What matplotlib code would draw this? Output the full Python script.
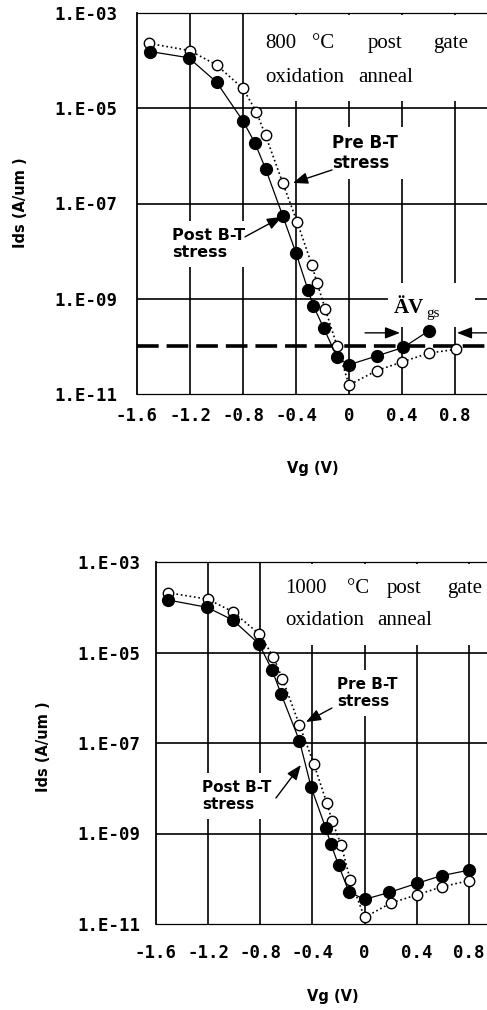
import matplotlib
matplotlib.use('Agg')
import matplotlib.pyplot as plt
from matplotlib.patches import Rectangle

# Vg (V) and Ids (A/um), 800 C anneal
vg_post_800 = [-1.50, -1.21, -1.00, -0.80, -0.71, -0.63, -0.50, -0.40, -0.31, -0.27, -0.19, -0.09, 0.00, 0.21, 0.41, 0.60]
ids_post_800 = [1.55e-4, 1.15e-4, 3.55e-5, 5.4e-6, 1.86e-6, 5.4e-7, 5.5e-8, 9.1e-9, 1.55e-9, 7.2e-10, 2.4e-10, 5.9e-11, 4.1e-11, 6.3e-11, 9.5e-11, 2.1e-10]
vg_pre_800 = [-1.51, -1.20, -1.00, -0.80, -0.70, -0.63, -0.50, -0.39, -0.28, -0.24, -0.18, -0.09, 0.00, 0.21, 0.40, 0.60, 0.81]
ids_pre_800 = [2.3e-4, 1.62e-4, 8.1e-5, 2.6e-5, 8.5e-6, 2.7e-6, 2.7e-7, 4.0e-8, 5.1e-9, 2.1e-9, 6.2e-10, 1.02e-10, 1.55e-11, 3.1e-11, 4.7e-11, 7.2e-11, 8.7e-11]

# 1000 C anneal
vg_post_1000 = [-1.51, -1.21, -1.01, -0.81, -0.71, -0.64, -0.50, -0.41, -0.30, -0.26, -0.20, -0.12, 0.00, 0.19, 0.40, 0.59, 0.80]
ids_post_1000 = [1.45e-4, 1.0e-4, 5.2e-5, 1.55e-5, 4.1e-6, 1.2e-6, 1.12e-7, 1.05e-8, 1.35e-9, 6.0e-10, 2.0e-10, 5.1e-11, 3.5e-11, 5.0e-11, 7.9e-11, 1.17e-10, 1.55e-10]
vg_pre_1000 = [-1.51, -1.20, -1.01, -0.81, -0.70, -0.63, -0.50, -0.39, -0.29, -0.25, -0.18, -0.11, 0.00, 0.20, 0.40, 0.59, 0.80]
ids_pre_1000 = [2.1e-4, 1.5e-4, 7.9e-5, 2.6e-5, 8.1e-6, 2.6e-6, 2.5e-7, 3.5e-8, 4.7e-9, 1.9e-9, 5.6e-10, 9.3e-11, 1.4e-11, 2.9e-11, 4.4e-11, 6.6e-11, 9.1e-11]

xticks = [-1.6, -1.2, -0.8, -0.4, 0, 0.4, 0.8]
xticklabels = ['-1.6', '-1.2', '-0.8', '-0.4', '0', '0.4', '0.8']
yticks = [1e-3, 1e-5, 1e-7, 1e-9, 1e-11]
yticklabels = ['1.E-03', '1.E-05', '1.E-07', '1.E-09', '1.E-11']
ref_level = 1e-10

W, H = 487, 1010
fig = plt.figure(figsize=(W/100, H/100), dpi=100)

def px_axes(l, t, r, b):
  return fig.add_axes([l/W, 1-b/H, (r-l)/W, (b-t)/H])

mono = dict(family='DejaVu Sans Mono', weight='bold')
serif = 'Liberation Serif'

def panel(ax, vpost, ipost, vpre, ipre, xmax, ypad, xpad):
  ax.set_yscale('log')
  ax.set_xlim(-1.6, xmax)
  ax.set_ylim(1e-11, 1e-3)
  ax.set_xticks(xticks)
  ax.set_xticklabels(xticklabels, fontsize=12.5, **mono)
  ax.set_yticks(yticks)
  ax.set_yticklabels(yticklabels, fontsize=12.5, **mono)
  ax.yaxis.set_minor_locator(matplotlib.ticker.NullLocator())
  ax.tick_params(length=0)
  ax.tick_params(axis='y', pad=ypad)
  ax.tick_params(axis='x', pad=xpad)
  for x in xticks[1:]:
    ax.axvline(x, color='black', lw=1.2, zorder=0.5)
  for y in yticks[1:4]:
    ax.axhline(y, color='black', lw=1.2, zorder=0.5)
  ax.spines['right'].set_visible(False)
  ax.spines['left'].set_linewidth(1.3)
  ax.spines['top'].set_linewidth(0.9)
  ax.spines['bottom'].set_linewidth(0.9)
  ax.plot(vpre, ipre, color='black', ls=':', lw=1.2, marker='o', ms=7.5,
          mfc='white', mec='black', mew=1.0, zorder=3)
  ax.plot(vpost, ipost, color='black', ls='-', lw=0.9, marker='o', ms=8.5,
          mfc='black', mec='black', zorder=4)

def tbox(ax, x0, y0, words1, words2, yb1, yb2):
  ax.add_patch(Rectangle((x0, y0), 1.05-x0, 0.995-y0, transform=ax.transAxes,
                         facecolor='white', edgecolor='none', zorder=1, clip_on=False))
  for x, w in words1:
    ax.text(x, yb1, w, transform=ax.transAxes, family=serif, fontsize=15,
            va='baseline', ha='left', zorder=2)
  for x, w in words2:
    ax.text(x, yb2, w, transform=ax.transAxes, family=serif, fontsize=15,
            va='baseline', ha='left', zorder=2)

arrow = dict(arrowstyle='-|>,head_length=0.9,head_width=0.35', color='black', lw=1.0,
             shrinkA=0, shrinkB=0)
lab = dict(family='DejaVu Sans', weight='bold', ha='left', va='center',
           linespacing=1.15, zorder=2)

# top panel
ax1 = px_axes(137, 13, 487, 394)
panel(ax1, vg_post_800, ids_post_800, vg_pre_800, ids_pre_800,
      -1.6 + 350/132.5, 14.4, 9.4)
tbox(ax1, 0.337, 0.769,
     [(0.366, '800'), (0.50, '°C'), (0.66, 'post'), (0.846, 'gate')],
     [(0.366, 'oxidation'), (0.631, 'anneal')], 0.908, 0.819)
ax1.axhline(ref_level, color='black', lw=2.6, dashes=(6, 2.2), zorder=2.5)
ax1.text(-0.128, 10**-5.94, 'Pre B-T\nstress', fontsize=12,
         bbox=dict(facecolor='white', edgecolor='none', pad=5), **lab)
ax1.annotate('', xy=(-0.423, 10**-6.568), xytext=(-0.128, 10**-6.295), arrowprops=arrow)
ax1.text(-1.336, 10**-7.85, 'Post B-T\nstress', fontsize=11.5,
         bbox=dict(facecolor='white', edgecolor='none', pad=5), **lab)
ax1.annotate('', xy=(-0.506, 10**-7.28), xytext=(-0.785, 10**-7.70), arrowprops=arrow)
ax1.add_patch(Rectangle((0.294, 10**-9.59), 0.657, 10**-8.666 - 10**-9.59,
                        facecolor='white', edgecolor='none', zorder=1))
ax1.text(0.34, 10**-9.19, 'ÄV', family=serif, weight='bold', fontsize=15,
         ha='left', va='center', zorder=2)
ax1.text(0.582, 10**-9.32, 'gs', family=serif, fontsize=11,
         ha='left', va='center', zorder=2)
ax1.annotate('', xy=(0.385, 10**-9.716), xytext=(0.121, 10**-9.716), arrowprops=arrow)
ax1.annotate('', xy=(0.815, 10**-9.716), xytext=(1.08, 10**-9.716), arrowprops=arrow,
             annotation_clip=False)

# bottom panel
ax2 = px_axes(156, 562, 487, 924)
panel(ax2, vg_post_1000, ids_post_1000, vg_pre_1000, ids_pre_1000,
      -1.6 + 331/130.4, 11.5, 14.4)
tbox(ax2, 0.375, 0.771,
     [(0.39, '1000'), (0.577, '°C'), (0.698, 'post'), (0.879, 'gate')],
     [(0.39, 'oxidation'), (0.668, 'anneal')], 0.914, 0.826)
ax2.text(-0.212, 10**-5.895, 'Pre B-T\nstress', fontsize=11,
         bbox=dict(facecolor='white', edgecolor='none', pad=5), **lab)
ax2.annotate('', xy=(-0.45, 10**-6.536), xytext=(-0.251, 10**-6.227), arrowprops=arrow)
ax2.text(-1.248, 10**-8.17, 'Post B-T\nstress', fontsize=11,
         bbox=dict(facecolor='white', edgecolor='none', pad=5), **lab)
ax2.annotate('', xy=(-0.489, 10**-7.486), xytext=(-0.68, 10**-8.215), arrowprops=arrow)

lbl = dict(family='DejaVu Sans', weight='bold', fontsize=10.5, ha='center', va='center')
fig.text(21/W, 1-203/H, 'Ids (A/um )', rotation=90, **lbl)
fig.text(44/W, 1-747/H, 'Ids (A/um )', rotation=90, **lbl)
fig.text(313/W, 1-468/H, 'Vg (V)', **lbl)
fig.text(333/W, 1-997/H, 'Vg (V)', **lbl)

fig.savefig('out.png', dpi=100)
